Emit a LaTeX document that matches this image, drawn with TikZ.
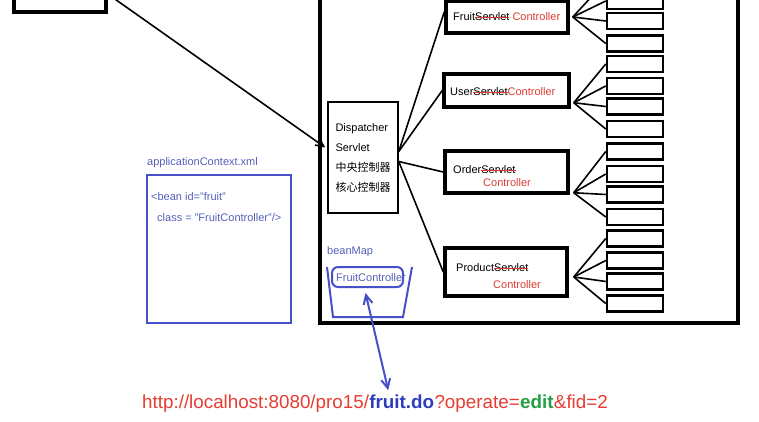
\documentclass[tikz,border=0pt]{standalone}
\usepackage{fontspec}
\setmainfont{Liberation Sans}
\newfontfamily\cjk{Noto Sans CJK SC}
\usetikzlibrary{calc,positioning,arrows.meta}
\definecolor{strikered}{RGB}{225,55,50}
\definecolor{ctrlred}{RGB}{220,60,50}
\definecolor{beanblue}{RGB}{70,80,200}
\definecolor{xmlblue}{RGB}{85,95,185}
\definecolor{urlred}{RGB}{230,60,50}
\definecolor{urlblue}{RGB}{45,60,190}
\definecolor{urlgreen}{RGB}{35,160,70}
\newlength\strikelen
% doorgestreept woord, rode streep
\newcommand{\struck}[1]{\settowidth{\strikelen}{#1}\rlap{#1}\textcolor{strikered}{\rule[0.32em]{\strikelen}{0.7pt}}}
\newcommand{\ctrlword}{\textcolor{ctrlred}{Controller}}
\tikzset{
  % box styles
  frame/.style={draw,line width=4pt,inner sep=0pt},
  ctrlbox/.style={draw,line width=3.5pt,inner sep=0pt,minimum width=122pt},
  slot/.style={draw,line width=2.5pt,inner sep=0pt,minimum width=56pt,minimum height=16pt},
  dispbox/.style={draw,line width=1.5pt,minimum width=70pt,minimum height=111pt,align=left,
    font=\fontsize{11}{20}\selectfont},
  xmlbox/.style={draw=beanblue,line width=2pt,inner sep=0pt},
  holder/.style={draw=beanblue,line width=2pt,rounded corners=6pt,inner sep=0pt},
  % text styles
  txt/.style={inner sep=0pt,anchor=west,font=\fontsize{11}{13}\selectfont},
  bluetxt/.style={txt,text=xmlblue},
  urltxt/.style={inner sep=0pt,font=\fontsize{18.8}{20}\selectfont,text=urlred},
  % connector styles
  link/.style={line width=1.6pt},
  beanlink/.style={draw=beanblue,line width=2pt},
}
\begin{document}
\begin{tikzpicture}[x=1pt,y=-1pt]
  \useasboundingbox (0,0) rectangle (759,422);
  % browser box (cut off) and container
  \node[frame,line width=3.5pt,minimum width=92pt,minimum height=36pt] (client) at (60,-6) {};
  \node[frame,minimum width=418pt,minimum height=363pt] (container) at (529,141.5) {};
  \node[dispbox] (disp) at (363,157.5) {Dispatcher\\Servlet\\{\cjk 中央控制器}\\{\cjk 核心控制器}};
  \draw[link,-{Straight Barb[length=8pt,width=8pt]}] (client.east) -- ($(disp.west)+(-2,-10)$);
  % controllers
  \node[ctrlbox,minimum height=32pt] (fruit) at (507,17) {};
  \node[ctrlbox,minimum width=125pt,minimum height=33pt] (user) at (506.5,90.5) {};
  \node[ctrlbox,minimum width=123pt,minimum height=42pt] (order) at (506.5,172) {};
  \node[ctrlbox,minimum height=48pt] (product) at (506,272) {};
  \node[txt] (fruittxt) at (453,17) {Fruit\struck{Servlet} \ctrlword};
  \node[txt] (usertxt) at (450,92) {User\struck{Servlet}\ctrlword};
  \node[txt,align=left] (ordertxt) at (453,176.5) {Order\struck{Servlet}\\\hspace*{30pt}\ctrlword};
  \node[txt,align=left,font=\fontsize{11}{17}\selectfont] (producttxt) at (456,276.5)
    {Product\struck{Servlet}\\\hspace*{37pt}\ctrlword};
  \draw[link] ($(disp.east)+(0,-6)$) -- ($(fruit.west)+(0,-5)$);
  \draw[link] ($(disp.east)+(0,-6)$) -- (user.west);
  \draw[link] ($(disp.east)+(0,4)$) -- (order.west);
  \draw[link] ($(disp.east)+(0,4)$) -- (product.west);
  % methods
  \foreach \y [count=\i] in {1,21,43.5,64,86,106.5,129,151.5,174,194.5,217,238.5,260.5,281.5,303.5}
    \node[slot] (s\i) at (635,\y) {};
  \coordinate (s0) at (607,-20);
  \coordinate (jfruit) at ($(fruit.east)+(3,0)$);
  \coordinate (juser) at ($(user.south east)+(3,-6)$);
  \coordinate (jorder) at ($(order.south east)+(4,-2)$);
  \coordinate (jproduct) at ($(product.east)+(5,5)$);
  \draw[link] (jfruit) -- (s0);
  \foreach \i in {1,2,3} \draw[link] (jfruit) -- (s\i.west);
  \foreach \i in {4,...,7} \draw[link] (juser) -- (s\i.west);
  \foreach \i in {8,...,11} \draw[link] (jorder) -- (s\i.west);
  \foreach \i in {12,...,15} \draw[link] (jproduct) -- (s\i.west);
  % applicationContext.xml
  \node[bluetxt] (xmlname) at (147,163) {applicationContext.xml};
  \node[xmlbox,minimum width=144pt,minimum height=148pt] (xml) at (219,249) {};
  \node[bluetxt] (beanline) at (151,197) {<bean id="fruit"};
  \node[bluetxt] (classline) at (157,218) {class = "FruitController"/>};
  % beanMap
  \node[bluetxt] (mapname) at (327,252) {beanMap};
  \draw[beanlink] (327,267) -- (333,317) -- (403,317) -- (412,267);
  \node[holder,minimum width=71pt,minimum height=20pt] (bean) at (367.5,277) {};
  \node[bluetxt] (beantxt) at (336,278) {FruitController};
  % request url
  \node[urltxt,anchor=base west] (urlhost) at (142,408) {http://localhost:8080/pro15/};
  \node[urltxt,base right=0pt of urlhost,text=urlblue,font=\fontsize{18.8}{20}\selectfont\bfseries] (fruitdo) {fruit.do};
  \node[urltxt,base right=0pt of fruitdo] (urlop) {?operate=};
  \node[urltxt,base right=0pt of urlop,text=urlgreen,font=\fontsize{18.8}{20}\selectfont\bfseries] (urledit) {edit};
  \node[urltxt,base right=0pt of urledit] (urlfid) {\&fid=2};
  \draw[beanlink,{Straight Barb[length=9pt,width=9pt]}-{Straight Barb[length=9pt,width=9pt]}]
    ($(bean.south)+(-2,5)$) -- ($(fruitdo.north west)+(19,-4)$);
\end{tikzpicture}
\end{document}
